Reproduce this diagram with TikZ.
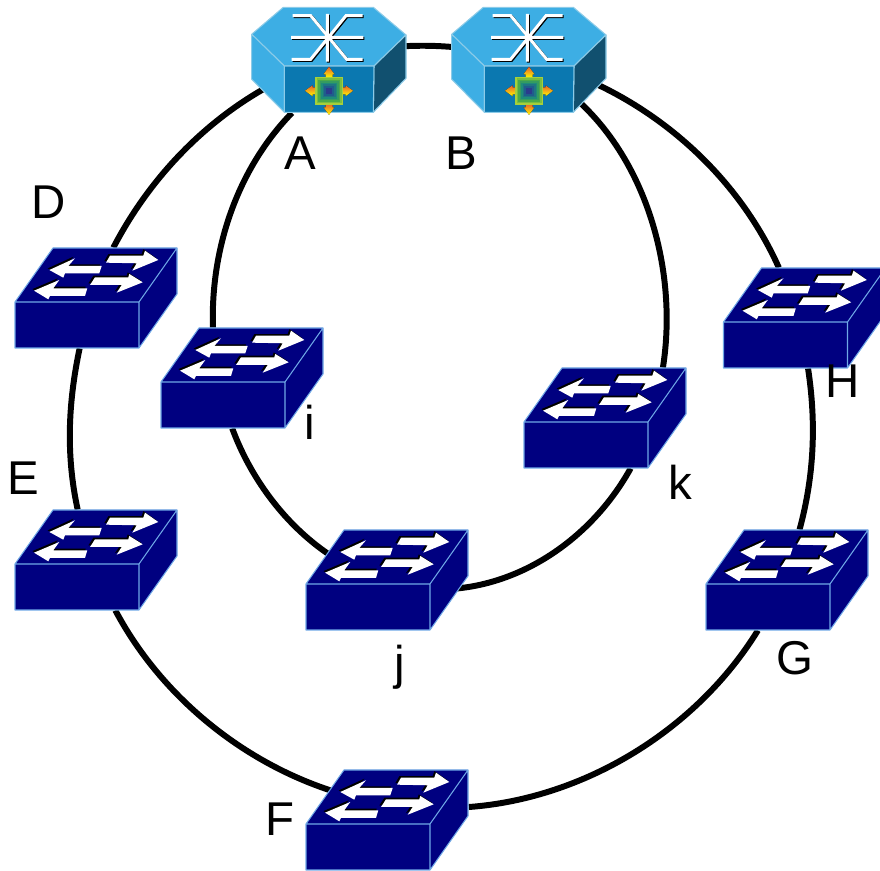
\documentclass[tikz,border=0pt]{standalone}
\usepackage{fontspec}
\setmainfont{Liberation Sans}
\usetikzlibrary{arrows}
\definecolor{switchblue}{HTML}{000080}
\definecolor{switchedge}{HTML}{6FA8E6}
\definecolor{hextop}{HTML}{3DAEE4}
\definecolor{hexfront}{HTML}{0B78B0}
\definecolor{hexside}{HTML}{11506F}
\definecolor{hexedge}{HTML}{8CCBE8}
\definecolor{iconA}{HTML}{A6D03A}
\definecolor{iconB}{HTML}{4BAA48}
\definecolor{iconC}{HTML}{1E8C78}
\definecolor{iconD}{HTML}{1F5C8C}
\definecolor{iconE}{HTML}{2B3A8C}
\definecolor{iconarrow}{HTML}{E8602C}
\newcommand{\swarrows}{
(14,42.3) -- (47.3,42.3) -- (49,47.3) -- (62.3,38) -- (36.3,27.3) -- (40.7,34.7) -- (10,35.3) -- cycle
(-46.7,28) -- (-21,39.7) -- (-27.7,32) -- (5.7,32) -- (3.3,24.7) -- (-31,24.7) -- (-32.7,20.3) -- cycle
(-1,20.7) -- (32.3,20.7) -- (33.3,24) -- (46.7,15.7) -- (20.7,5.3) -- (25.7,13) -- (-6,13) -- cycle
(-62,7.3) -- (-36.7,18) -- (-42.7,9.7) -- (-8.7,9.7) -- (-11,2) -- (-46,2) -- (-47.7,-1.3) -- cycle}
\newcommand{\hexstar}{
(-1.7,46) -- (-1.7,-1.7) (-38,22.7) -- (34.3,22.7)
(-36.3,44.3) -- (-18.3,44.3) -- (17.7,.7) -- (33.7,.7)
(33.7,44.3) -- (17,44.3) -- (-18.3,.7) -- (-37.3,.7)}
\tikzset{
  switchnode/.style={rectangle, inner sep=0pt, minimum width=3.26cm, minimum height=2cm},
  hexnode/.style={rectangle, inner sep=0pt, minimum width=3.1cm, minimum height=2.1cm},
  ring/.style={line width=3.4pt, looseness=0.88},
  lbl/.style={font=\fontsize{27}{27}\selectfont, anchor=base, inner sep=0pt},
  switchpic/.pic={
    \filldraw[fill=switchblue, draw=switchedge, line width=0.6pt, line join=round]
      (-81,-4) -- (43,-4) -- (81,50) -- (-43,50) -- cycle
      (43,-4) -- (81,50) -- (81,4) -- (43,-50) -- cycle
      (-81,-4) -- (43,-4) -- (43,-50) -- (-81,-50) -- cycle;
    \fill[black, shift={(-1.6,1.6)}] \swarrows;
    \fill[white] \swarrows;
  },
  hexpic/.pic={
    \filldraw[fill=hextop, draw=hexedge, line width=0.6pt, line join=round]
      (-45.7,52.7) -- (44.3,52.7) -- (77,25) -- (45,-6) -- (-44.7,-6) -- (-77.3,25.7) -- cycle;
    \filldraw[fill=hextop, draw=hexedge, line width=0.6pt, line join=round]
      (-77.3,25.7) -- (-44.7,-6) -- (-44.7,-52.3) -- (-77.3,-19.3) -- cycle;
    \filldraw[fill=hexside, draw=hexedge, line width=0.6pt, line join=round]
      (45,-6) -- (77,25) -- (77,-18.3) -- (44.3,-52.3) -- cycle;
    \filldraw[fill=hexfront, draw=hexedge, line width=0.6pt, line join=round]
      (-44.7,-6) -- (45,-6) -- (44.3,-52.3) -- (-44.7,-52.3) -- cycle;
    \draw[black, line width=1.7pt, shift={(1,-1)}] \hexstar;
    \draw[white, line width=1.7pt] \hexstar;
    % small icon on the front face
    \begin{scope}[shift={(0,-30.8)}]
      \foreach \ang in {0,90,180,270} {
        \fill[rotate=\ang, bottom color=yellow, top color=iconarrow]
          (-3.5,13) -- (-3.5,16.5) -- (-5.5,16.5) -- (0,24) -- (5.5,16.5) -- (3.5,16.5) -- (3.5,13) -- cycle;
      }
      \fill[iconA] (-14,-14) rectangle (14,14);
      \fill[iconA!50!iconB] (-12.5,-12.5) rectangle (12.5,12.5);
      \fill[iconB] (-11,-11) rectangle (11,11);
      \fill[iconB!50!iconC] (-9.5,-9.5) rectangle (9.5,9.5);
      \fill[iconC] (-8,-8) rectangle (8,8);
      \fill[iconC!50!iconD] (-6.5,-6.5) rectangle (6.5,6.5);
      \fill[iconD] (-5,-5) rectangle (5,5);
      \fill[iconE] (-3,-3) rectangle (3,3);
    \end{scope}
  }
}
\begin{document}
\begin{tikzpicture}[x=0.02cm, y=0.02cm]
\useasboundingbox (0,0) rectangle (880,871);

% Nodes first, pictures go on top of the rings later
\node[hexnode] (A) at (329,811) {};
\node[hexnode] (B) at (529,811) {};
\foreach \name/\px/\py in {D/96/573, E/96/311, F/387/51, G/787/291, H/804.5/553, i/242/493, j/387/291, k/605/453} {
  \node[switchnode] (\name) at (\px,\py) {};
}

% Outer ring
\draw[ring] (A.center) to[out=18, in=166] (B.center);
\draw[ring] (A.center) to[out=198, in=62.5] (D.71);
\draw[ring] (D.252) to[out=258, in=102.3] (E.110);
\draw[ring] (E.291.5) to[out=298, in=171.3] ([yshift=0.32cm]F.center);
\draw[ring] (F.9) to[out=4.2, in=238.4] (G.240.5);
\draw[ring] (G.76.5) to[out=74.8, in=278.7] (H.274.6);
\draw[ring] (H.117) to[out=114.1, in=346] (B.center);

% Inner ring
\draw[ring] (A.235) to[out=225.8, in=91.8] (i.120);
\draw[ring] (i.259) to[out=290.3, in=163.8] ([yshift=-0.04cm]j.center);
\draw[ring, looseness=0.95] ([yshift=-0.04cm]j.center) to[out=343.8, in=241] (k.297.5);
\draw[ring] (k.41) to[out=81, in=323.8] ([shift={(31,-26)}]B.center);

% Devices
\pic at (A.center) {hexpic};
\pic at (B.center) {hexpic};
\foreach \name in {D,E,F,G,H,i,j,k} {
  \pic at (\name.center) {switchpic};
}

% Labels
\node[lbl] (lblA) at (300,701) {A};
\node[lbl] (lblB) at (461,701) {B};
\node[lbl] (lblD) at (49,652) {D};
\node[lbl] (lblE) at (23,376) {E};
\node[lbl] (lblF) at (280,35) {F};
\node[lbl] (lblG) at (795,196) {G};
\node[lbl] (lblH) at (843,473) {H};
\node[lbl] (lbli) at (310,431) {i};
\node[lbl] (lblj) at (400,191) {j};
\node[lbl] (lblk) at (680,371) {k};
\end{tikzpicture}
\end{document}
